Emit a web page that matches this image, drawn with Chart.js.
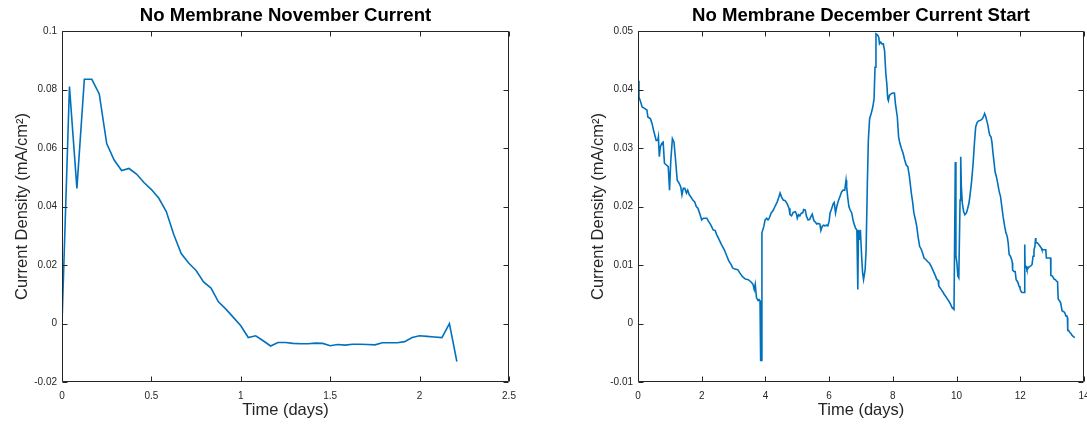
<!DOCTYPE html>
<html>
<head>
<meta charset="utf-8">
<script src="https://cdn.jsdelivr.net/npm/chart.js@4/dist/chart.umd.min.js"></script>
<style>
  html, body { margin: 0; padding: 0; background: #fff; width: 1087px; height: 425px; overflow: hidden; }
  .box { position: absolute; top: 0; }
  #leftBox { left: 0; }
  #rightBox { left: 576px; }
</style>
</head>
<body>
<div class="box" id="leftBox"><canvas id="c1" width="540" height="425"></canvas></div>
<div class="box" id="rightBox"><canvas id="c2" width="520" height="425"></canvas></div>
<script>
// ---------- Left chart: No Membrane November Current ----------
const novTitle = 'No Membrane November Current';
const novTime = [0, 0.0417, 0.0833, 0.125, 0.1667, 0.2083, 0.25, 0.2917, 0.3333, 0.375,
  0.4167, 0.4583, 0.5, 0.5417, 0.5833, 0.625, 0.6667, 0.7083, 0.75, 0.7917,
  0.8333, 0.875, 0.9167, 0.9583, 1.0, 1.0417, 1.0833, 1.125, 1.1667, 1.2083,
  1.25, 1.2917, 1.3333, 1.375, 1.4167, 1.4583, 1.5, 1.5417, 1.5833, 1.625,
  1.6667, 1.7083, 1.75, 1.7917, 1.8333, 1.875, 1.9167, 1.9583, 2.0, 2.0417,
  2.0833, 2.125, 2.1667, 2.2083];
const novCurrent = [0, 0.081, 0.0462, 0.0835, 0.0835, 0.0785, 0.0615, 0.0559, 0.0523, 0.053,
  0.0511, 0.0482, 0.0458, 0.0428, 0.0383, 0.0304, 0.0239, 0.0207, 0.0181, 0.0142,
  0.0121, 0.0074, 0.0049, 0.0021, -0.0008, -0.0048, -0.0042, -0.0059, -0.0077, -0.0065,
  -0.0065, -0.0068, -0.0069, -0.0069, -0.0067, -0.0068, -0.0076, -0.0072, -0.0074, -0.0071,
  -0.0071, -0.0072, -0.0073, -0.0066, -0.0066, -0.0066, -0.0062, -0.0048, -0.0042, -0.0044,
  -0.0046, -0.0048, 0.0000, -0.013];
const novXTicks = [0, 0.5, 1, 1.5, 2, 2.5];
const novXTickLabels = ['0', '0.5', '1', '1.5', '2', '2.5'];
const novYTicks = [-0.02, 0, 0.02, 0.04, 0.06, 0.08, 0.1];
const novYTickLabels = ['-0.02', '0', '0.02', '0.04', '0.06', '0.08', '0.1'];

// ---------- Right chart: No Membrane December Current Start ----------
const decTitle = 'No Membrane December Current Start';
const decTime = [0.00, 0.03, 0.07, 0.13, 0.23, 0.28, 0.31, 0.39, 0.44, 0.49,
  0.57, 0.62, 0.64, 0.67, 0.70, 0.75, 0.79, 0.83, 0.89, 0.95,
  0.99, 1.03, 1.08, 1.13, 1.18, 1.23, 1.29, 1.34, 1.38, 1.42,
  1.47, 1.52, 1.56, 1.61, 1.65, 1.72, 1.78, 1.83, 1.88, 1.95,
  2.00, 2.05, 2.10, 2.16, 2.21, 2.28, 2.36, 2.42, 2.47, 2.55,
  2.62, 2.71, 2.79, 2.85, 2.92, 2.97, 3.04, 3.13, 3.19, 3.28,
  3.37, 3.46, 3.55, 3.61, 3.65, 3.68, 3.72, 3.77, 3.80, 3.83,
  3.85, 3.87, 3.89, 3.95, 3.99, 4.04, 4.08, 4.12, 4.18, 4.24,
  4.30, 4.37, 4.42, 4.46, 4.50, 4.56, 4.62, 4.68, 4.74, 4.77,
  4.82, 4.87, 4.94, 4.98, 5.00, 5.04, 5.08, 5.13, 5.17, 5.20,
  5.25, 5.29, 5.34, 5.39, 5.44, 5.47, 5.52, 5.57, 5.61, 5.65,
  5.71, 5.74, 5.78, 5.82, 5.86, 5.92, 5.96, 6.00, 6.03, 6.07,
  6.13, 6.16, 6.20, 6.24, 6.28, 6.34, 6.39, 6.44, 6.49, 6.53,
  6.55, 6.58, 6.62, 6.66, 6.71, 6.75, 6.79, 6.83, 6.87, 6.90,
  6.92, 6.95, 6.98, 7.02, 7.05, 7.08, 7.13, 7.16, 7.20, 7.23,
  7.27, 7.32, 7.37, 7.41, 7.44, 7.47, 7.52, 7.56, 7.58, 7.62,
  7.66, 7.70, 7.74, 7.78, 7.81, 7.84, 7.86, 7.89, 7.95, 8.00,
  8.05, 8.08, 8.14, 8.18, 8.22, 8.27, 8.32, 8.37, 8.42, 8.47,
  8.52, 8.58, 8.62, 8.66, 8.71, 8.75, 8.79, 8.84, 8.89, 8.93,
  8.98, 9.04, 9.09, 9.15, 9.20, 9.25, 9.29, 9.34, 9.38, 9.42,
  9.44, 9.48, 9.53, 9.57, 9.61, 9.65, 9.71, 9.76, 9.81, 9.86,
  9.92, 9.94, 9.96, 9.98, 10.01, 10.04, 10.07, 10.11, 10.13, 10.15,
  10.18, 10.22, 10.26, 10.31, 10.35, 10.39, 10.43, 10.47, 10.52, 10.56,
  10.60, 10.64, 10.68, 10.73, 10.77, 10.81, 10.86, 10.88, 10.92, 10.95,
  10.98, 11.01, 11.04, 11.08, 11.11, 11.14, 11.17, 11.21, 11.25, 11.29,
  11.34, 11.38, 11.42, 11.46, 11.51, 11.55, 11.59, 11.62, 11.65, 11.69,
  11.73, 11.75, 11.76, 11.80, 11.84, 11.87, 11.92, 11.96, 11.99, 12.01,
  12.05, 12.09, 12.13, 12.14, 12.15, 12.18, 12.21, 12.25, 12.28, 12.32,
  12.37, 12.40, 12.43, 12.46, 12.48, 12.49, 12.53, 12.58, 12.62, 12.66,
  12.68, 12.73, 12.76, 12.80, 12.82, 12.87, 12.92, 12.95, 12.96, 13.01,
  13.06, 13.10, 13.13, 13.17, 13.19, 13.23, 13.27, 13.31, 13.34, 13.37,
  13.40, 13.43, 13.46, 13.48, 13.49, 13.52, 13.55, 13.59, 13.62, 13.66,
  13.71];
const decCurrent = [0.0415, 0.0387, 0.0381, 0.0370, 0.0367, 0.0365, 0.0353, 0.0350, 0.0342, 0.0330,
  0.0313, 0.0313, 0.0319, 0.0285, 0.0302, 0.0308, 0.0310, 0.0274, 0.0271, 0.0268,
  0.0228, 0.0279, 0.0316, 0.0310, 0.0279, 0.0245, 0.0240, 0.0234, 0.0220, 0.0231,
  0.0231, 0.0223, 0.0228, 0.0220, 0.0217, 0.0211, 0.0208, 0.0200, 0.0197, 0.0186,
  0.0177, 0.0180, 0.0180, 0.0180, 0.0175, 0.0169, 0.0160, 0.0159, 0.0152, 0.0143,
  0.0135, 0.0126, 0.0115, 0.0107, 0.0101, 0.0095, 0.0093, 0.0092, 0.0087, 0.0080,
  0.0076, 0.0075, 0.0071, 0.0067, 0.0058, 0.0067, 0.0044, 0.0039, 0.0041, 0.0039,
  -0.0063, -0.0063, 0.0155, 0.0166, 0.0177, 0.0180, 0.0177, 0.0180, 0.0189, 0.0193,
  0.0200, 0.0208, 0.0216, 0.0223, 0.0217, 0.0211, 0.0210, 0.0205, 0.0197, 0.0186,
  0.0184, 0.0190, 0.0191, 0.0186, 0.0180, 0.0186, 0.0184, 0.0189, 0.0189, 0.0195,
  0.0194, 0.0183, 0.0177, 0.0178, 0.0184, 0.0187, 0.0176, 0.0173, 0.0170, 0.0171,
  0.0170, 0.0159, 0.0166, 0.0168, 0.0167, 0.0168, 0.0167, 0.0175, 0.0189, 0.0195,
  0.0205, 0.0207, 0.0189, 0.0200, 0.0208, 0.0217, 0.0225, 0.0228, 0.0228, 0.0245,
  0.0234, 0.0217, 0.0200, 0.0194, 0.0189, 0.0177, 0.0169, 0.0163, 0.0160, 0.0058,
  0.0160, 0.0143, 0.0160, 0.0115, 0.0087, 0.0075, 0.0092, 0.0126, 0.0240, 0.0313,
  0.0350, 0.0359, 0.0370, 0.0384, 0.0438, 0.0495, 0.0493, 0.0489, 0.0478, 0.0481,
  0.0478, 0.0478, 0.0466, 0.0427, 0.0410, 0.0384, 0.0381, 0.0390, 0.0393, 0.0394,
  0.0394, 0.0376, 0.0353, 0.0319, 0.0308, 0.0299, 0.0291, 0.0280, 0.0271, 0.0268,
  0.0251, 0.0223, 0.0208, 0.0189, 0.0177, 0.0166, 0.0149, 0.0132, 0.0127, 0.0121,
  0.0112, 0.0109, 0.0106, 0.0103, 0.0098, 0.0092, 0.0087, 0.0081, 0.0075, 0.0074,
  0.0064, 0.0061, 0.0057, 0.0054, 0.0050, 0.0047, 0.0042, 0.0038, 0.0033, 0.0027,
  0.0024, 0.0024, 0.0276, 0.0115, 0.0104, 0.0081, 0.0078, 0.0211, 0.0285, 0.0234,
  0.0206, 0.0192, 0.0186, 0.0189, 0.0197, 0.0206, 0.0223, 0.0242, 0.0274, 0.0308,
  0.0336, 0.0343, 0.0346, 0.0347, 0.0348, 0.0350, 0.0356, 0.0359, 0.0353, 0.0346,
  0.0340, 0.0330, 0.0322, 0.0319, 0.0310, 0.0293, 0.0279, 0.0259, 0.0251, 0.0240,
  0.0225, 0.0217, 0.0200, 0.0183, 0.0166, 0.0155, 0.0149, 0.0138, 0.0118, 0.0115,
  0.0109, 0.0104, 0.0091, 0.0089, 0.0089, 0.0075, 0.0071, 0.0064, 0.0061, 0.0056,
  0.0053, 0.0053, 0.0053, 0.0135, 0.0098, 0.0098, 0.0092, 0.0095, 0.0097, 0.0098,
  0.0101, 0.0115, 0.0126, 0.0132, 0.0146, 0.0138, 0.0138, 0.0135, 0.0132, 0.0129,
  0.0126, 0.0126, 0.0126, 0.0126, 0.0112, 0.0112, 0.0112, 0.0112, 0.0082, 0.0081,
  0.0076, 0.0075, 0.0073, 0.0071, 0.0042, 0.0039, 0.0035, 0.0022, 0.0022, 0.0020,
  0.0018, 0.0013, 0.0013, 0.0010, -0.0012, -0.0012, -0.0015, -0.0017, -0.0020, -0.0022,
  -0.0024];
const decXTicks = [0, 2, 4, 6, 8, 10, 12, 14];
const decXTickLabels = ['0', '2', '4', '6', '8', '10', '12', '14'];
const decYTicks = [-0.01, 0, 0.01, 0.02, 0.03, 0.04, 0.05];
const decYTickLabels = ['-0.01', '0', '0.01', '0.02', '0.03', '0.04', '0.05'];

const xLabel = 'Time (days)';
const yLabel = 'Current Density (mA/cm\u00B2)';

const FONT = '"Liberation Sans", Arial, Helvetica, sans-serif';
const AXIS_COLOR = '#262626';
const LINE_COLOR = '#0072BD';

// Box with inward ticks (MATLAB style), drawn from the chart's own scales.
const boxPlugin = {
  id: 'matlabBox',
  afterDatasetsDraw(chart) {
    const { ctx, chartArea: a, scales: { x, y } } = chart;
    const L = Math.round(a.left) + 0.5, R = Math.round(a.right) - 0.5;
    const T = Math.round(a.top) + 0.5, B = Math.round(a.bottom) - 0.5;
    const len = 5;
    ctx.save();
    ctx.strokeStyle = AXIS_COLOR;
    ctx.lineWidth = 1;
    ctx.beginPath();
    ctx.rect(L, T, R - L, B - T);
    x.ticks.forEach(t => {
      const px = Math.round(x.getPixelForValue(t.value)) + 0.5;
      ctx.moveTo(px, B); ctx.lineTo(px, B - len);
      ctx.moveTo(px, T); ctx.lineTo(px, T + len);
    });
    y.ticks.forEach(t => {
      const py = Math.round(y.getPixelForValue(t.value)) + 0.5;
      ctx.moveTo(L, py); ctx.lineTo(L + len, py);
      ctx.moveTo(R, py); ctx.lineTo(R - len, py);
    });
    ctx.stroke();
    ctx.restore();
  }
};

function makeChart(canvasId, title, xs, ys, xTicks, xTickLabels, yTicks, yTickLabels, rightPad) {
  const points = xs.map((v, i) => ({ x: v, y: ys[i] }));
  return new Chart(document.getElementById(canvasId), {
    type: 'line',
    data: {
      datasets: [{
        data: points,
        borderColor: LINE_COLOR,
        borderWidth: 1.6,
        pointRadius: 0,
        tension: 0,
        fill: false
      }]
    },
    options: {
      responsive: false,
      animation: false,
      devicePixelRatio: 1,
      layout: { padding: { left: 0, right: rightPad, top: 0, bottom: 0 } },
      plugins: {
        legend: { display: false },
        tooltip: { enabled: false },
        title: {
          display: true,
          text: title,
          fullSize: false,
          color: '#000',
          font: { family: FONT, size: 18.6, weight: 'bold', lineHeight: 1.2 },
          padding: { top: 5, bottom: 3.7 }
        }
      },
      scales: {
        x: {
          type: 'linear',
          min: xTicks[0],
          max: xTicks[xTicks.length - 1],
          afterBuildTicks: s => { s.ticks = xTicks.map(v => ({ value: v })); },
          afterFit: s => { s.height = 43; s.paddingLeft = 0; s.paddingRight = 0; },
          grid: { display: false, drawTicks: false },
          border: { display: false },
          ticks: {
            autoSkip: false, maxRotation: 0, padding: 8,
            color: AXIS_COLOR, font: { family: FONT, size: 10 },
            callback: (v, i) => xTickLabels[i]
          },
          title: {
            display: true, text: xLabel, color: AXIS_COLOR,
            font: { family: FONT, size: 16.5, lineHeight: 1.2 },
            padding: { top: 0, bottom: 5 }
          }
        },
        y: {
          type: 'linear',
          min: yTicks[0],
          max: yTicks[yTicks.length - 1],
          afterBuildTicks: s => { s.ticks = yTicks.map(v => ({ value: v })); },
          afterFit: s => { s.width = 62; s.paddingTop = 0; s.paddingBottom = 0; },
          grid: { display: false, drawTicks: false },
          border: { display: false },
          ticks: {
            autoSkip: false, padding: 5,
            color: AXIS_COLOR, font: { family: FONT, size: 10 },
            callback: (v, i) => yTickLabels[i]
          },
          title: {
            display: true, text: yLabel, color: AXIS_COLOR,
            font: { family: FONT, size: 16.5, lineHeight: 1.2 },
            padding: { top: 12.5, bottom: 0 }
          }
        }
      }
    },
    plugins: [boxPlugin]
  });
}

makeChart('c1', novTitle, novTime, novCurrent, novXTicks, novXTickLabels, novYTicks, novYTickLabels, 31);
makeChart('c2', decTitle, decTime, decCurrent, decXTicks, decXTickLabels, decYTicks, decYTickLabels, 12);
</script>
</body>
</html>
